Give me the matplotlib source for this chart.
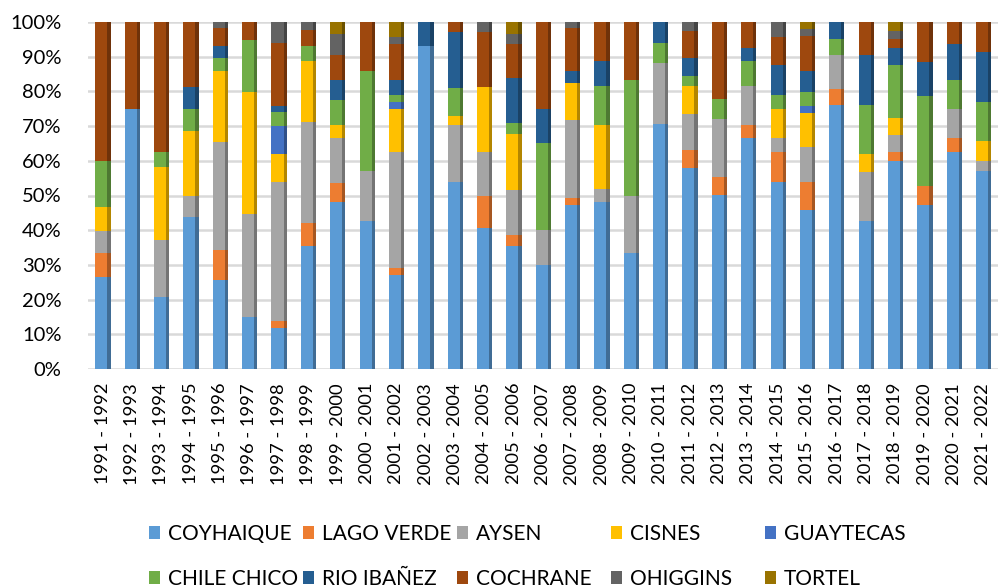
import numpy as np
import matplotlib
matplotlib.use("Agg")
import matplotlib.pyplot as plt
from matplotlib.colors import to_rgb

plt.rcParams['font.family'] = ['Lato', 'DejaVu Sans']

seasons = ['1991 - 1992', '1992 - 1993', '1993 - 1994', '1994 - 1995', '1995 - 1996',
           '1996 - 1997', '1997 - 1998', '1998 - 1999', '1999 - 2000', '2000 - 2001',
           '2001 - 2002', '2002 - 2003', '2003 - 2004', '2004 - 2005', '2005 - 2006',
           '2006 - 2007', '2007 - 2008', '2008 - 2009', '2009 - 2010', '2010 - 2011',
           '2011 - 2012', '2012 - 2013', '2013 - 2014', '2014 - 2015', '2015 - 2016',
           '2016 - 2017', '2017 - 2018', '2018 - 2019', '2019 - 2020', '2020 - 2021',
           '2021 - 2022']

# share (%) of each commune per season
coyhaique = [26.5, 75, 20.7, 43.7, 25.7, 14.9, 11.9, 35.4, 48, 42.7, 27, 93.2, 54, 40.5, 35.4, 29.9,
             47.3, 48.2, 33.5, 70.6, 57.9, 50.1, 66.5, 54, 45.8, 76.2, 42.7, 60, 47.3, 62.4, 57.1]
lago_verde = [6.8, 0, 0, 0, 8.7, 0, 1.9, 6.7, 5.5, 0, 2.1, 0, 0, 9.5, 3.2, 0,
              1.9, 0, 0, 0, 5.3, 5.3, 3.9, 8.4, 8, 4.5, 0, 2.4, 5.3, 4.1, 0]
aysen = [6.5, 0, 16.6, 6.3, 31, 29.9, 40, 29, 13, 14.4, 33.3, 0, 16.2, 12.4, 13, 10.1,
         22.6, 3.7, 16.5, 17.6, 10.4, 16.7, 11.1, 4.1, 10.1, 9.7, 14.2, 5.1, 0, 8.4, 2.7]
cisnes = [6.8, 0, 20.9, 18.7, 20.6, 35, 8.1, 17.6, 3.7, 0, 12.5, 0, 2.8, 18.8, 16.1, 0,
          10.7, 18.5, 0, 0, 7.9, 0, 0, 8.4, 9.9, 0, 5, 4.8, 0, 0, 5.8]
guaytecas = [0, 0, 0, 0, 0, 0, 8, 0, 0, 0, 2.1, 0, 0, 0, 0, 0,
             0, 0, 0, 0, 0, 0, 0, 0, 1.9, 0, 0, 0, 0, 0, 0]
chile_chico = [13.2, 0, 4.2, 6.2, 3.5, 15, 4.1, 4.5, 7.4, 28.7, 2.1, 0, 8, 0, 3.2, 25.1,
               0, 11.1, 33.4, 5.8, 2.9, 5.8, 7.4, 4.2, 4.1, 4.6, 14.1, 15.2, 26.2, 8.3, 11.4]
rio_ibanez = [0, 0, 0, 6.3, 3.5, 0, 1.9, 0, 5.6, 0, 4.1, 6.8, 16.2, 0, 13, 9.9,
              3.3, 7.4, 0, 6, 5.1, 0, 3.7, 8.4, 6, 5, 14.4, 5.1, 9.8, 10.5, 14.3]
cochrane = [40.2, 25, 37.6, 18.8, 5.4, 5.2, 18, 4.5, 7.4, 14.2, 10.5, 0, 2.8, 15.9, 9.8, 25,
            12.6, 11.1, 16.6, 0, 7.9, 22.1, 7.4, 8.3, 10.2, 0, 9.6, 2.4, 11.4, 6.3, 8.7]
ohiggins = [0, 0, 0, 0, 1.6, 0, 6.1, 2.3, 5.8, 0, 2, 0, 0, 2.9, 2.9, 0,
            1.6, 0, 0, 0, 2.6, 0, 0, 4.2, 1.9, 0, 0, 2.4, 0, 0, 0]
tortel = [0, 0, 0, 0, 0, 0, 0, 0, 3.6, 0, 4.3, 0, 0, 0, 3.4, 0,
          0, 0, 0, 0, 0, 0, 0, 0, 2.1, 0, 0, 2.6, 0, 0, 0]

names = ['COYHAIQUE', 'LAGO VERDE', 'AYSEN', 'CISNES', 'GUAYTECAS',
         'CHILE CHICO', 'RIO IBAÑEZ', 'COCHRANE', 'OHIGGINS', 'TORTEL']
colors = ['#5B9BD5', '#ED7D31', '#A5A5A5', '#FFC000', '#4472C4',
          '#70AD47', '#255E91', '#9E480E', '#636363', '#997300']

data = np.array([coyhaique, lago_verde, aysen, cisnes, guaytecas,
                 chile_chico, rio_ibanez, cochrane, ohiggins, tortel], dtype=float)
data = data / data.sum(axis=0) * 100  # 100% stacked

fig = plt.figure(figsize=(10.02, 5.88), dpi=100)
ax = fig.add_axes([88 / 1002, 1 - 369 / 588, 910 / 1002, 347 / 588])

x = np.arange(len(seasons))
bottom = np.zeros(len(seasons))
handles = []
for vals, name, col in zip(data, names, colors):
    dark = tuple(c * 0.7 for c in to_rgb(col))
    h = ax.bar(x - 0.25, vals, width=0.41, bottom=bottom, align='edge', color=col, label=name, zorder=3)
    ax.bar(x + 0.16, vals, width=0.11, bottom=bottom, align='edge', color=dark, zorder=3)
    handles.append(h)
    bottom += vals

ax.set_xlim(-0.5, len(seasons) - 0.5)
ax.set_ylim(0, 100)
ax.set_yticks(np.arange(0, 101, 10))
ax.set_yticklabels([f'{v}%' for v in range(0, 101, 10)], fontsize=14.5)
ax.set_xticks(x)
ax.set_xticklabels(seasons, rotation=90, fontsize=13.2)
ax.tick_params(axis='both', length=0)
ax.tick_params(axis='y', pad=19)
ax.tick_params(axis='x', pad=10)
ax.grid(axis='y', color='#D9D9D9', linewidth=1.8, zorder=0)
for s in ax.spines.values():
    s.set_visible(False)

# legend: 5 evenly spaced columns, two rows
col_x = [149, 303, 457, 611, 765]
for i, cx in enumerate(col_x):
    fig.legend([handles[i], handles[i + 5]], [names[i], names[i + 5]],
               loc='upper left', bbox_to_anchor=(cx / 1002, 1 - 524 / 588),
               frameon=False, fontsize=15, ncol=1, borderpad=0, borderaxespad=0,
               handlelength=0.55, handleheight=0.55, handletextpad=0.35, labelspacing=1.2)

fig.savefig('out.png', dpi=100)
